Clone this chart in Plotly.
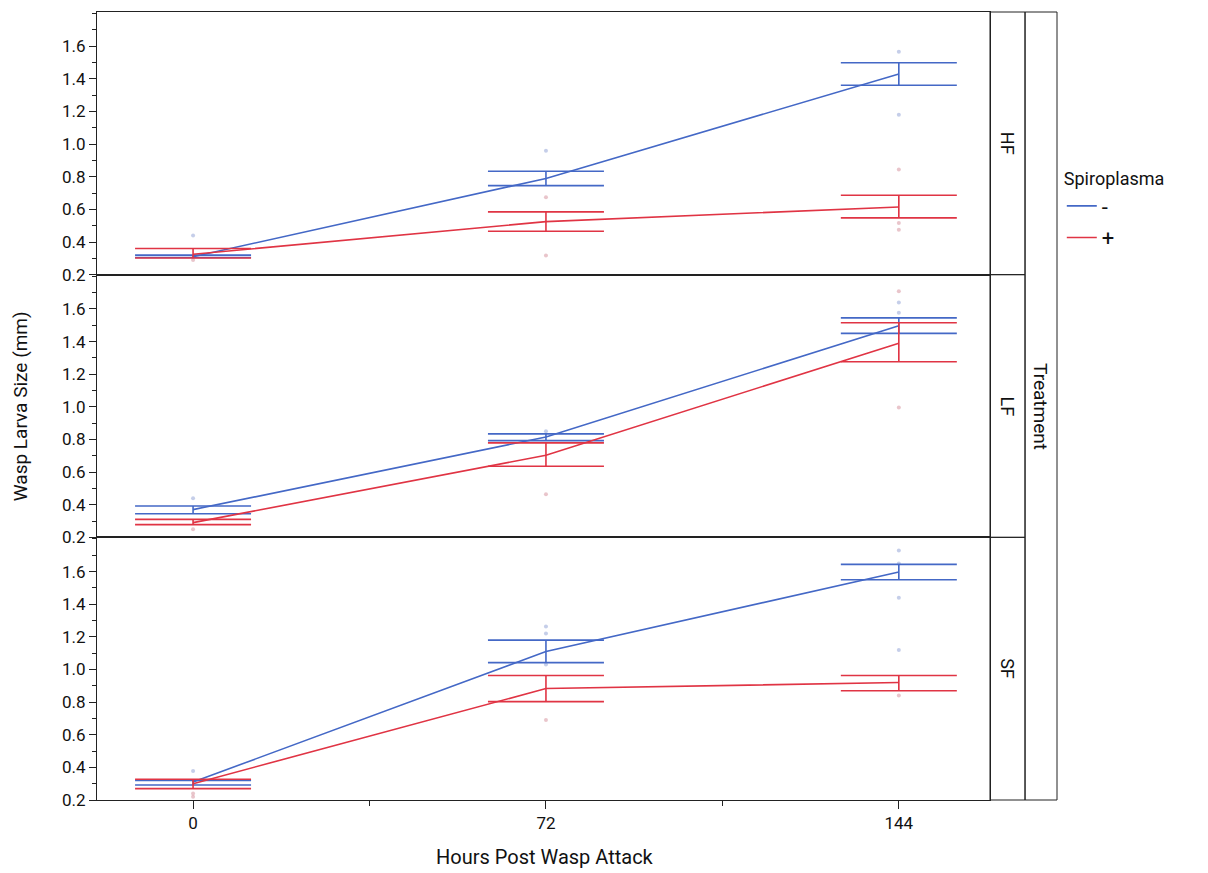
import plotly.graph_objects as go
from plotly.subplots import make_subplots

# ---- data ----
hours = [0, 72, 144]
treatments = ["HF", "LF", "SF"]

# means (mm) per treatment, for Spiroplasma - and +
mean_minus = {"HF": [0.31, 0.79, 1.43], "LF": [0.37, 0.815, 1.497], "SF": [0.31, 1.11, 1.597]}
upper_minus = {"HF": [0.32, 0.834, 1.499], "LF": [0.392, 0.834, 1.545], "SF": [0.32, 1.18, 1.644]}
lower_minus = {"HF": [0.305, 0.746, 1.361], "LF": [0.345, 0.793, 1.45], "SF": [0.292, 1.042, 1.55]}

mean_plus = {"HF": [0.325, 0.525, 0.615], "LF": [0.29, 0.703, 1.39], "SF": [0.30, 0.883, 0.92]}
upper_plus = {"HF": [0.36, 0.585, 0.687], "LF": [0.31, 0.779, 1.515], "SF": [0.327, 0.963, 0.963]}
lower_plus = {"HF": [0.302, 0.466, 0.548], "LF": [0.278, 0.636, 1.276], "SF": [0.27, 0.803, 0.87]}

# individual observations (faint points)
pts_x = {
    "HF": [0, 0, 72, 72, 72, 144, 144, 144, 144, 144],
    "LF": [0, 0, 72, 72, 144, 144, 144, 144],
    "SF": [0, 0, 0, 72, 72, 72, 72, 144, 144, 144, 144, 144],
}
pts_y = {
    "HF": [0.44, 0.29, 0.96, 0.675, 0.318, 1.566, 1.18, 0.844, 0.517, 0.476],
    "LF": [0.44, 0.25, 0.85, 0.464, 1.709, 1.64, 1.576, 0.996],
    "SF": [0.378, 0.24, 0.22, 1.263, 1.22, 1.03, 0.69, 1.73, 1.65, 1.44, 1.12, 0.84],
}
pts_c = {
    "HF": ["b", "r", "b", "r", "r", "b", "b", "r", "r", "r"],
    "LF": ["b", "r", "b", "r", "r", "b", "b", "r"],
    "SF": ["b", "r", "r", "b", "b", "b", "r", "b", "b", "b", "b", "r"],
}

ytick_vals = [0.2, 0.4, 0.6, 0.8, 1.0, 1.2, 1.4, 1.6]
xtick_vals = [0, 72, 144]

BLUE = "#4468c6"
RED = "#e03444"
FONT = "Roboto, sans-serif"

fig = make_subplots(rows=3, cols=1, shared_xaxes=True, vertical_spacing=0)

for i, t in enumerate(treatments):
    row = i + 1
    fig.add_trace(go.Scatter(
        x=pts_x[t], y=pts_y[t], mode="markers", showlegend=False, hoverinfo="skip",
        marker=dict(size=4, color=["rgba(150,165,215,0.55)" if c == "b" else "rgba(215,150,160,0.55)" for c in pts_c[t]]),
    ), row=row, col=1)
    for name, col, m, up, lo in [("-", BLUE, mean_minus, upper_minus, lower_minus),
                                 ("+", RED, mean_plus, upper_plus, lower_plus)]:
        fig.add_trace(go.Scatter(
            x=hours, y=m[t], mode="lines", name=name, legendgroup=name,
            showlegend=(i == 0),
            line=dict(color=col, width=1.6),
            error_y=dict(type="data", symmetric=False,
                         array=[u - v for u, v in zip(up[t], m[t])],
                         arrayminus=[v - l for v, l in zip(m[t], lo[t])],
                         color=col, thickness=1.6, width=58),
        ), row=row, col=1)

for r in (1, 2, 3):
    fig.update_yaxes(
        row=r, col=1, range=[0.2, 1.81], tickvals=ytick_vals, tickformat=".1f",
        ticks="outside", ticklen=7, tickcolor="#222", tickwidth=1,
        minor=dict(dtick=0.1, tick0=0.2, ticks="outside", ticklen=4, tickcolor="#222"),
        showline=True, linecolor="#222", linewidth=1, mirror=True,
        showgrid=False, zeroline=False,
        tickfont=dict(family=FONT, size=17, color="#111"),
    )
    fig.update_xaxes(
        row=r, col=1, range=[-19.6, 162.6], domain=[0, 0.9302],
        showline=True, linecolor="#222", linewidth=1, mirror=True,
        showgrid=False, zeroline=False,
    )
fig.update_xaxes(row=1, col=1, ticks="", showticklabels=False)
fig.update_xaxes(row=2, col=1, ticks="", showticklabels=False)
fig.update_xaxes(
    row=3, col=1, tickvals=xtick_vals, ticks="outside", ticklen=8, tickcolor="#222",
    minor=dict(tickvals=[36, 108], ticks="outside", ticklen=5, tickcolor="#222"),
    showticklabels=True, tickfont=dict(family=FONT, size=17, color="#111"),
)

# strips
x0s, x1s, x2s = 0.9302, 0.9667, 1.0
shapes = []
for i in range(3):
    y0 = 1 - (i + 1) / 3
    y1 = 1 - i / 3
    shapes.append(dict(type="rect", xref="paper", yref="paper", x0=x0s, x1=x1s, y0=y0, y1=y1,
                       line=dict(color="#222", width=1)))
shapes.append(dict(type="rect", xref="paper", yref="paper", x0=x1s, x1=x2s, y0=0, y1=1,
                   line=dict(color="#222", width=1)))

annotations = []
for i, t in enumerate(treatments):
    annotations.append(dict(text=t, xref="paper", yref="paper", x=(x0s + x1s) / 2, y=1 - (i + 0.5) / 3,
                            xanchor="center", yanchor="middle",
                            showarrow=False, textangle=90, font=dict(family=FONT, size=18, color="#111")))
annotations.append(dict(text="Treatment", xref="paper", yref="paper", x=(x1s + x2s) / 2, y=0.5,
                        xanchor="center", yanchor="middle",
                        showarrow=False, textangle=90, font=dict(family=FONT, size=19, color="#111")))
annotations.append(dict(text="Wasp Larva Size (mm)", xref="paper", yref="paper", x=-0.08, y=0.5,
                        xanchor="center", yanchor="middle",
                        showarrow=False, textangle=-90, font=dict(family=FONT, size=19, color="#111")))
annotations.append(dict(text="Hours Post Wasp Attack", xref="paper", yref="paper", x=(545 - 97) / 960, y=-0.0723,
                        xanchor="center", yanchor="middle",
                        showarrow=False, font=dict(family=FONT, size=20, color="#111")))

fig.update_layout(
    width=1200, height=865,
    margin=dict(l=89, r=151, t=4, b=73),
    paper_bgcolor="white", plot_bgcolor="white",
    shapes=shapes, annotations=annotations,
    font=dict(family=FONT, color="#111"),
    legend=dict(
        title=dict(text="Spiroplasma", font=dict(family=FONT, size=18, color="#111")),
        font=dict(family=FONT, size=22, color="#111"),
        x=1.005, xanchor="left", y=0.81, yanchor="top",
        bgcolor="rgba(0,0,0,0)", tracegroupgap=0, itemwidth=30,
    ),
)

fig.write_html("out.html")
